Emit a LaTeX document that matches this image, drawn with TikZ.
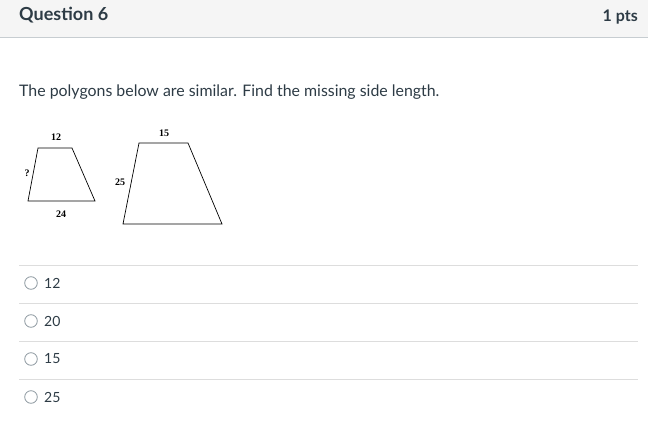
\documentclass[tikz,border=0pt]{standalone}
\usepackage{fontspec}
\setmainfont{Lato}
\newfontfamily\figfont{Liberation Serif}
\definecolor{canvasink}{HTML}{2D3B45}
\definecolor{headerbg}{HTML}{F5F5F5}
\definecolor{headerline}{HTML}{C7CDD1}
\definecolor{ruleline}{HTML}{DDDDDD}
\definecolor{radiogray}{HTML}{8B969E}
\tikzset{
  shape line/.style={draw=black, line width=0.7pt},
  side label/.style={font=\figfont\bfseries\fontsize{10}{11}\selectfont, inner sep=0pt},
  answer text/.style={font=\fontsize{14}{16}\selectfont, text=canvasink, anchor=west, inner sep=0pt},
  radio/.style={draw=radiogray, line width=0.8pt}
}
\begin{document}
\begin{tikzpicture}[x=1pt, y=-1pt]
\useasboundingbox (0,0) rectangle (648,423);
% Header bar
\fill[headerbg] (0,0) rectangle (648,37);
\draw[headerline, line width=1pt] (0,37.5) -- (648,37.5);
\node[anchor=base west, inner sep=0pt, text=canvasink, font=\bfseries\fontsize{18}{20}\selectfont] (title) at (19,20) {Question 6};
\node[anchor=base east, inner sep=0pt, text=canvasink, font=\bfseries\fontsize{16}{18}\selectfont] (points) at (638,21) {1 pts};

% Question text
\node[anchor=base west, inner sep=0pt, text=canvasink, font=\fontsize{15.9}{18}\selectfont] (prompt) at (19,96) {The polygons below are similar. Find the missing side length.};

% Small trapezoid
\coordinate (sa) at (38,148);
\coordinate (sb) at (72,148);
\coordinate (sc) at (95,201);
\coordinate (sd) at (28,201);
\draw[shape line] (sa) -- (sb) -- (sc) -- (sd) -- cycle;
\node[side label] (stop) at (56,137) {12};
\node[side label] (sleft) at (27,173) {?};
\node[side label] (sbot) at (61,214) {24};

% Large trapezoid
\coordinate (la) at (139,143);
\coordinate (lb) at (188,143);
\coordinate (lc) at (222,224);
\coordinate (ld) at (123,224);
\draw[shape line] (la) -- (lb) -- (lc) -- (ld) -- cycle;
\node[side label] (ltop) at (164,133) {15};
\node[side label] (lleft) at (120,182) {25};

% Answer choices
\foreach \y/\ans [count=\i] in {283/12, 321/20, 359/15, 397/25} {
  \draw[ruleline, line width=1pt] (19,\y-18) -- (638,\y-18);
  \draw[radio] (31,\y) circle (6.3);
  \node[answer text] (choice\i) at (44,\y) {\ans};
}
\end{tikzpicture}
\end{document}
